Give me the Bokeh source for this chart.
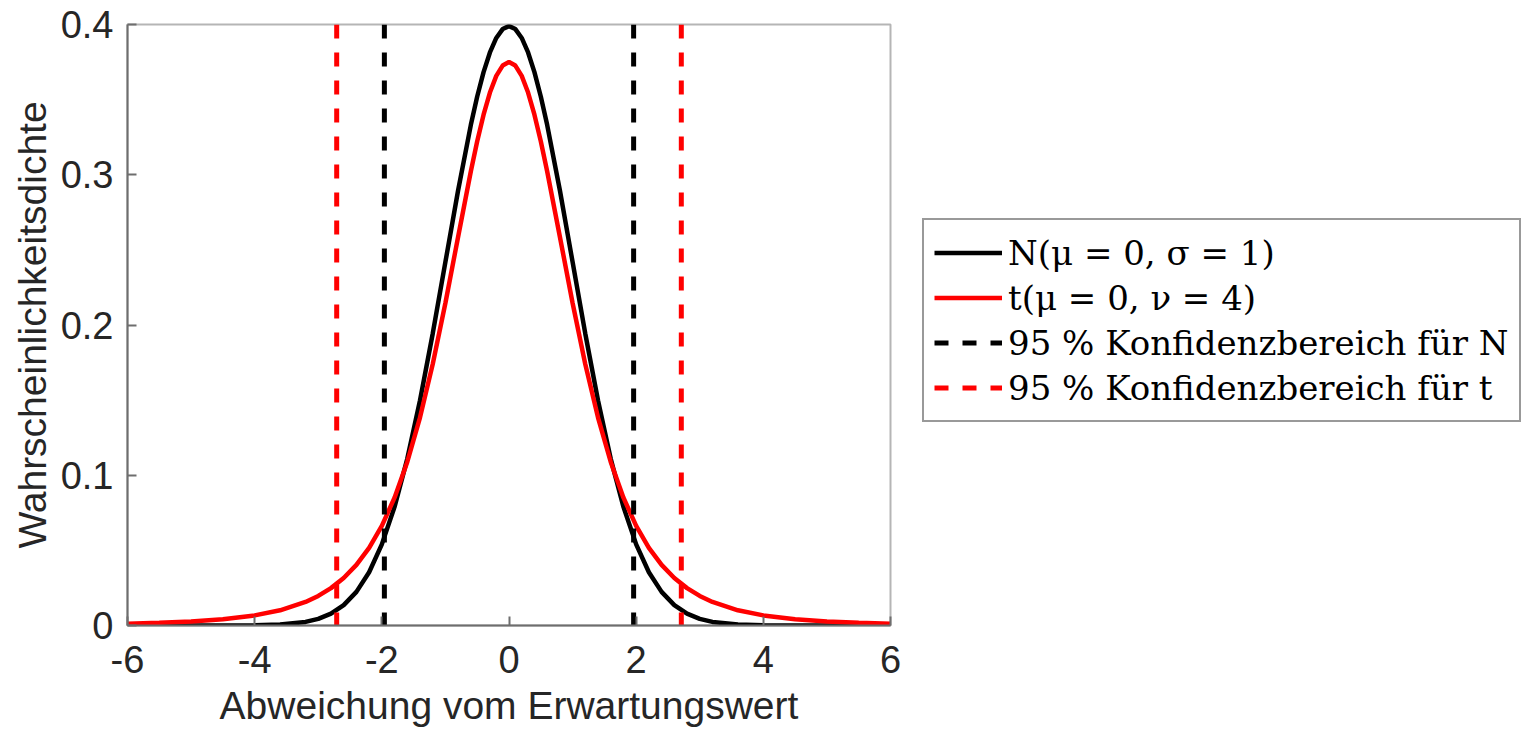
from bokeh.plotting import figure
from bokeh.models import Legend, LegendItem, FixedTicker, ColumnDataSource
from bokeh.embed import file_html
from bokeh.resources import INLINE

# ---- data ----
x_vals = [-6.0, -5.5, -5.0, -4.5, -4.0, -3.6, -3.2, -3.0, -2.8, -2.6, -2.4, -2.2, -2.0,
          -1.8, -1.6, -1.4, -1.2, -1.0, -0.8, -0.6, -0.5, -0.4, -0.3, -0.2, -0.1, 0.0,
          0.1, 0.2, 0.3, 0.4, 0.5, 0.6, 0.8, 1.0, 1.2, 1.4, 1.6, 1.8, 2.0, 2.2, 2.4,
          2.6, 2.8, 3.0, 3.2, 3.6, 4.0, 4.5, 5.0, 5.5, 6.0]
normal_pdf = [0.0, 0.0, 0.0, 0.00002, 0.00013, 0.00061, 0.00238, 0.00443, 0.00792, 0.01358,
              0.02239, 0.03547, 0.05399, 0.07895, 0.11092, 0.14973, 0.19419, 0.24197,
              0.28969, 0.33322, 0.35207, 0.36827, 0.38139, 0.39104, 0.39695, 0.39894,
              0.39695, 0.39104, 0.38139, 0.36827, 0.35207, 0.33322, 0.28969, 0.24197,
              0.19419, 0.14973, 0.11092, 0.07895, 0.05399, 0.03547, 0.02239, 0.01358,
              0.00792, 0.00443, 0.00238, 0.00061, 0.00013, 0.00002, 0.0, 0.0, 0.0]
t_pdf = [0.00119, 0.00175, 0.00265, 0.00415, 0.00671, 0.01013, 0.01568, 0.01969, 0.02488,
         0.03160, 0.04032, 0.05165, 0.06629, 0.08508, 0.10888, 0.13838, 0.17385, 0.21466,
         0.25875, 0.30232, 0.32226, 0.33998, 0.35471, 0.36579, 0.37267, 0.375,
         0.37267, 0.36579, 0.35471, 0.33998, 0.32226, 0.30232, 0.25875, 0.21466,
         0.17385, 0.13838, 0.10888, 0.08508, 0.06629, 0.05165, 0.04032, 0.03160,
         0.02488, 0.01969, 0.01568, 0.01013, 0.00671, 0.00415, 0.00265, 0.00175, 0.00119]
ci_normal = [-1.96, 1.96]
ci_t = [-2.71, 2.71]
ci_top = 0.4
ci_bottom = 0.0

x_ticks = [-6, -4, -2, 0, 2, 4, 6]
x_tick_labels = ["-6", "-4", "-2", "0", "2", "4", "6"]
y_ticks = [0, 0.1, 0.2, 0.3, 0.4]
y_tick_labels = ["0", "0.1", "0.2", "0.3", "0.4"]

legend_labels = ["N(\u03bc = 0, \u03c3 = 1)", "t(\u03bc = 0, \u03bd = 4)",
                 "95 % Konfidenzbereich f\u00fcr N", "95 % Konfidenzbereich f\u00fcr t"]

x_label = "Abweichung vom Erwartungswert"
y_label = "Wahrscheinlichkeitsdichte"

# ---- figure ----
p = figure(frame_width=763, frame_height=601, x_range=(-6, 6), y_range=(0, 0.4),
           output_backend="svg", toolbar_location=None,
           min_border_left=127, min_border_right=640, min_border_top=24, min_border_bottom=96,
           background_fill_color="white", border_fill_color="white")
p.grid.visible = False
p.outline_line_color = "#b5b5b5"
p.outline_line_width = 2

r_n = p.line(x_vals, normal_pdf, line_width=4.5, line_color="#000000")
r_t = p.line(x_vals, t_pdf, line_width=4.5, line_color="#ff0000")

src_n = ColumnDataSource(dict(x0=ci_normal, x1=ci_normal, y0=[ci_top] * len(ci_normal),
                              y1=[ci_bottom] * len(ci_normal)))
src_t = ColumnDataSource(dict(x0=ci_t, x1=ci_t, y0=[ci_top] * len(ci_t),
                              y1=[ci_bottom] * len(ci_t)))
r_cn = p.segment(x0="x0", y0="y0", x1="x1", y1="y1", source=src_n, line_width=5,
                 line_color="#000000", line_dash="14 14", line_cap="butt")
r_ct = p.segment(x0="x0", y0="y0", x1="x1", y1="y1", source=src_t, line_width=5,
                 line_color="#ff0000", line_dash="14 14", line_cap="butt")

# axes
axis_col = "#262626"
for ax in (p.xaxis[0], p.yaxis[0]):
    ax.axis_line_color = "#6e6e6e"
    ax.axis_line_width = 2
    ax.major_tick_line_color = "#6e6e6e"
    ax.major_tick_line_width = 2
    ax.major_tick_in = 9
    ax.major_tick_out = 0
    ax.minor_tick_line_color = None
    ax.major_label_text_font = "Liberation Sans"
    ax.major_label_text_font_size = "38px"
    ax.major_label_text_color = axis_col
    ax.axis_label_text_font = "Liberation Sans"
    ax.axis_label_text_font_size = "39px"
    ax.axis_label_text_font_style = "normal"
    ax.axis_label_text_color = axis_col

p.xaxis.major_label_standoff = 20
p.yaxis.major_label_standoff = 14
p.xaxis.ticker = FixedTicker(ticks=x_ticks)
p.xaxis.major_label_overrides = {t: l for t, l in zip(x_ticks, x_tick_labels)}
p.yaxis.ticker = FixedTicker(ticks=y_ticks)
p.yaxis.major_label_overrides = {t: l for t, l in zip(y_ticks, y_tick_labels)}
p.xaxis.axis_label = x_label
p.yaxis.axis_label = y_label
p.xaxis.axis_label_standoff = 8
p.yaxis.axis_label_standoff = 4

legend = Legend(items=[LegendItem(label=legend_labels[0], renderers=[r_n]),
                       LegendItem(label=legend_labels[1], renderers=[r_t]),
                       LegendItem(label=legend_labels[2], renderers=[r_cn]),
                       LegendItem(label=legend_labels[3], renderers=[r_ct])],
                location=(32, 203))
legend.border_line_color = "#333333"
legend.border_line_width = 2
legend.background_fill_color = "white"
legend.background_fill_alpha = 1
legend.padding = 10
legend.spacing = 0
legend.margin = 0
legend.glyph_width = 68
legend.glyph_height = 45
legend.label_height = 45
legend.label_standoff = 6
legend.label_text_font = "DejaVu Serif"
legend.label_text_font_size = "34px"
legend.label_text_color = "#000000"
p.add_layout(legend, "right")

open("out.html", "w").write(file_html(p, INLINE))
